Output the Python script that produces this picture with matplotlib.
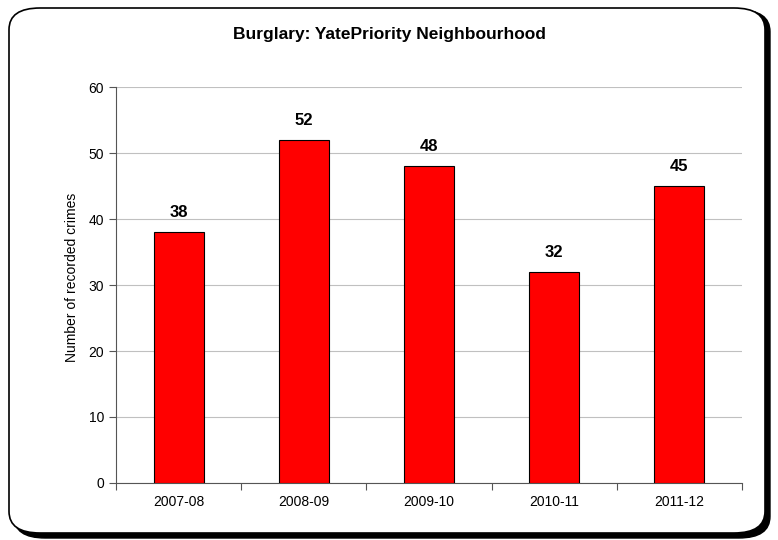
import matplotlib
matplotlib.use("Agg")
import matplotlib.pyplot as plt
from matplotlib.patches import FancyBboxPatch

years = ["2007-08", "2008-09", "2009-10", "2010-11", "2011-12"]
crimes = [38, 52, 48, 32, 45]

plt.rcParams["font.family"] = ["Liberation Sans", "DejaVu Sans"]

fig = plt.figure(figsize=(7.78, 5.4), dpi=100)

# rounded frame with a drop shadow, like the spreadsheet chart area
shadow = FancyBboxPatch((14 / 778, 1 - 538 / 540), 756 / 778, 528 / 540,
                        boxstyle="round,pad=0,rounding_size=0.04",
                        transform=fig.transFigure, facecolor="black",
                        edgecolor="black", zorder=0)
frame = FancyBboxPatch((9 / 778, 1 - 533 / 540), 756 / 778, 525 / 540,
                       boxstyle="round,pad=0,rounding_size=0.04",
                       transform=fig.transFigure, facecolor="white",
                       edgecolor="black", linewidth=1.2, zorder=1)
fig.patches.extend([shadow, frame])

ax = fig.add_axes([116 / 778, 1 - 483 / 540, 626 / 778, 396 / 540])
ax.set_facecolor("none")
ax.set_zorder(2)

x = list(range(len(years)))
ax.bar(x, crimes, width=0.4, color="#ff0000", edgecolor="black",
       linewidth=0.8, zorder=3)

for i, v in enumerate(crimes):
    ax.text(i, v + 1.8, str(v), ha="center", va="bottom",
            fontsize=12, fontweight="bold")

ax.set_xlim(-0.5, len(years) - 0.5)
ax.set_ylim(0, 60)
ax.set_yticks(range(0, 61, 10))

# tick marks between categories, labels centred under bars
ax.set_xticks([i - 0.5 for i in range(len(years) + 1)])
ax.set_xticklabels([])
ax.set_xticks(x, minor=True)
ax.set_xticklabels(years, minor=True)
ax.tick_params(axis="x", which="minor", length=0, pad=9, labelsize=10)
ax.tick_params(axis="x", which="major", length=5, color="#555555")
ax.tick_params(axis="y", labelsize=10, length=5, color="#555555")
ax.grid(axis="y", color="#c0c0c0", linewidth=0.8, zorder=0)

for side in ["top", "right"]:
    ax.spines[side].set_visible(False)
ax.spines["left"].set_color("#555555")
ax.spines["bottom"].set_color("#555555")

ax.set_ylabel("Number of recorded crimes", fontsize=10)
ax.yaxis.set_label_coords(-0.059, 0.52)
fig.text(0.5, 1 - 35 / 540, "Burglary: YatePriority Neighbourhood",
         ha="center", va="center", fontsize=12.5, fontweight="bold")

fig.savefig("out.png", dpi=100)
